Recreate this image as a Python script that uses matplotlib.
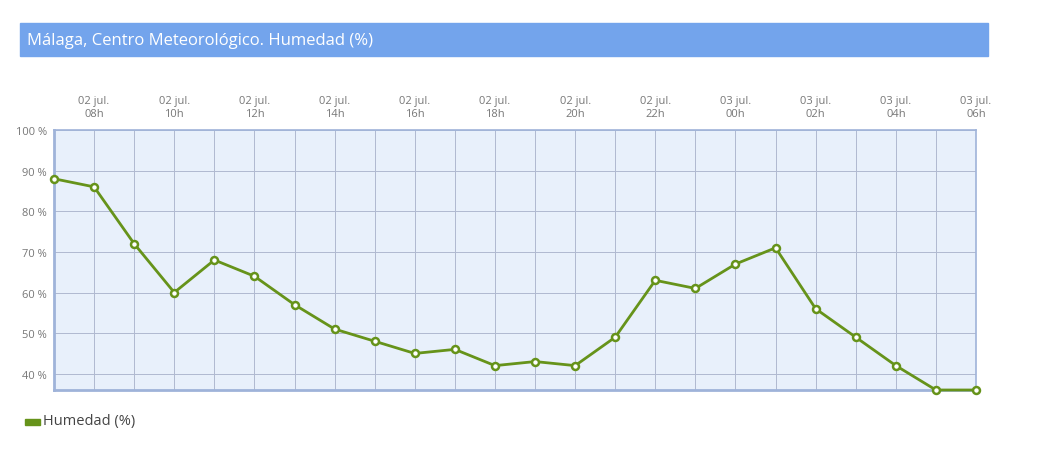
import numpy as np
import matplotlib.pyplot as plt
from matplotlib.patches import Rectangle

plt.rcParams['font.family'] = ['Open Sans', 'DejaVu Sans']

# Hourly humidity, 02 jul. 07h -> 03 jul. 06h
hours = ['07h', '08h', '09h', '10h', '11h', '12h', '13h', '14h', '15h', '16h',
         '17h', '18h', '19h', '20h', '21h', '22h', '23h', '00h', '01h', '02h',
         '03h', '04h', '05h', '06h']
days = ['02 jul.'] * 17 + ['03 jul.'] * 7
humidity = [88, 86, 72, 60, 68, 64, 57, 51, 48, 45, 46, 42, 43, 42, 49,
            63, 61, 67, 71, 56, 49, 42, 36, 36]
y_ticks = [40, 50, 60, 70, 80, 90, 100]

title = 'Málaga, Centro Meteorológico. Humedad (%)'
series_name = 'Humedad (%)'

line_color = '#66931a'
grid_color = '#b0b9d0'
frame_color = '#9fb3d9'
text_color = '#777777'

fig = plt.figure(figsize=(10.39, 4.6), dpi=100)

# Title bar
fig.patches.append(Rectangle((20 / 1039, 1 - 57 / 460), 968 / 1039, 33 / 460,
                             transform=fig.transFigure, color='#73a4ec', zorder=0))
fig.text(27 / 1039, 1 - 41 / 460, title, color='white', fontsize=12,
         va='center', ha='left')

ax = fig.add_axes([54 / 1039, 1 - 391 / 460, 922 / 1039, 260 / 460])
x = np.arange(len(humidity))
ax.set_facecolor('#e8f0fb')
ax.plot(x, humidity, color=line_color, lw=2, marker='o', ms=5,
        mfc='white', mec=line_color, mew=1.8, clip_on=False, zorder=3)

ax.set_xlim(0, len(humidity) - 1)
ax.set_ylim(36, 100)
ax.set_xticks(x, minor=True)
ax.set_xticks(x[1::2])
ax.set_xticklabels([f'{d}\n{h}' for d, h in zip(days[1::2], hours[1::2])])
ax.xaxis.tick_top()
ax.set_yticks(y_ticks)
ax.set_yticklabels([f'{v} %' for v in y_ticks])

ax.grid(True, which='both', color=grid_color, lw=0.7)
ax.tick_params(which='both', length=0, colors=text_color, labelsize=8)
ax.tick_params(axis='x', pad=8)
ax.tick_params(axis='y', pad=5)

for side in ['left', 'bottom']:
    ax.spines[side].set_color(frame_color)
    ax.spines[side].set_linewidth(2)
for side in ['top', 'right']:
    ax.spines[side].set_color(frame_color)
    ax.spines[side].set_linewidth(1.2)

# Legend
fig.patches.append(Rectangle((25 / 1039, 1 - 426 / 460), 15 / 1039, 6 / 460,
                             transform=fig.transFigure, color=line_color))
fig.text(43 / 1039, 1 - 422 / 460, series_name, color='#444444', fontsize=10.5,
         va='center', ha='left')

plt.savefig('out.png', dpi=100)
